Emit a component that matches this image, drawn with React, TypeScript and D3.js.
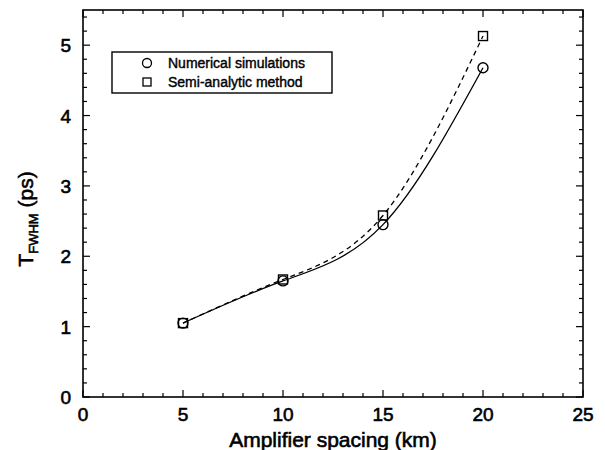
import { useEffect, useRef } from "react"
import * as d3 from "d3"

const spacing = [5, 10, 15, 20]
const numerical = [1.05, 1.65, 2.45, 4.68]
const semiAnalytic = [1.05, 1.67, 2.58, 5.13]
const xTicks = [0, 5, 10, 15, 20, 25]
const yTicks = [0, 1, 2, 3, 4, 5]
const legendLabels = ["Numerical simulations", "Semi-analytic method"]

const W = 605
const H = 450
const margin = { top: 10, right: 22, bottom: 53, left: 83 }
const FONT = "'Liberation Sans', Arial, Helvetica, sans-serif"

export default function App() {
    const ref = useRef<SVGSVGElement>(null)

    useEffect(() => {
        const svg = d3.select(ref.current)
        svg.selectAll("*").remove()

        const innerW = W - margin.left - margin.right
        const innerH = H - margin.top - margin.bottom

        const x = d3.scaleLinear().domain([0, 25]).range([0, innerW])
        const y = d3.scaleLinear().domain([0, 5.5]).range([innerH, 0])

        const g = svg.append("g").attr("transform", `translate(${margin.left},${margin.top})`)

        // frame
        g.append("rect")
            .attr("width", innerW)
            .attr("height", innerH)
            .attr("fill", "none")
            .attr("stroke", "#000")
            .attr("stroke-width", 1.6)

        // ticks on all sides, pointing in
        const xMinor = d3.range(0, 25.01, 1)
        const yMinor = d3.range(0, 5.51, 0.2)
        const tickG = g.append("g").attr("stroke", "#000").attr("stroke-width", 1.2)
        xMinor.forEach(v => {
            const len = v % 5 === 0 ? 7 : 4
            tickG.append("line").attr("x1", x(v)).attr("x2", x(v)).attr("y1", innerH).attr("y2", innerH - len)
            tickG.append("line").attr("x1", x(v)).attr("x2", x(v)).attr("y1", 0).attr("y2", len)
        })
        yMinor.forEach(v => {
            const major = Math.abs(v - Math.round(v)) < 1e-6
            const len = major ? 7 : 4
            tickG.append("line").attr("x1", 0).attr("x2", len).attr("y1", y(v)).attr("y2", y(v))
            tickG.append("line").attr("x1", innerW).attr("x2", innerW - len).attr("y1", y(v)).attr("y2", y(v))
        })

        // heavier text, like the scanned original
        const heavy = (sel: any, w = 0.6) =>
            sel.attr("font-family", FONT).attr("fill", "#000").attr("stroke", "#000").attr("stroke-width", w)

        // tick labels
        g.append("g")
            .selectAll("text")
            .data(xTicks)
            .join("text")
            .attr("x", d => x(d))
            .attr("y", innerH + 24)
            .attr("text-anchor", "middle")
            .attr("font-size", 19)
            .call(heavy)
            .text(d => d)

        g.append("g")
            .selectAll("text")
            .data(yTicks)
            .join("text")
            .attr("x", -12)
            .attr("y", d => y(d) + 7)
            .attr("text-anchor", "end")
            .attr("font-size", 19)
            .call(heavy)
            .text(d => d)

        // axis titles
        svg.append("text")
            .attr("x", margin.left + innerW / 2)
            .attr("y", 447)
            .attr("text-anchor", "middle")
            .attr("font-size", 21)
            .call(heavy)
            .text("Amplifier spacing (km)")

        const yl = svg.append("text")
            .attr("transform", `translate(33,219) rotate(-90)`)
            .attr("text-anchor", "middle")
            .attr("font-size", 21)
            .call(heavy)
        yl.append("tspan").text("T")
        yl.append("tspan").attr("font-size", 13).attr("dy", 5).text("FWHM")
        yl.append("tspan").attr("dy", -5).text(" (ps)")

        // curves
        const numPts = spacing.map((s, i) => [s, numerical[i]] as [number, number])
        const semiPts = spacing.map((s, i) => [s, semiAnalytic[i]] as [number, number])
        const line = d3.line<[number, number]>()
            .x(d => x(d[0]))
            .y(d => y(d[1]))
            .curve(d3.curveNatural)

        g.append("path")
            .datum(semiPts)
            .attr("fill", "none")
            .attr("stroke", "#000")
            .attr("stroke-width", 1.3)
            .attr("stroke-dasharray", "5,4")
            .attr("d", line)

        g.append("path")
            .datum(numPts)
            .attr("fill", "none")
            .attr("stroke", "#000")
            .attr("stroke-width", 1.3)
            .attr("d", line)

        // markers
        g.append("g")
            .selectAll("rect")
            .data(semiPts)
            .join("rect")
            .attr("x", d => x(d[0]) - 4.5)
            .attr("y", d => y(d[1]) - 4.5)
            .attr("width", 9)
            .attr("height", 9)
            .attr("fill", "none")
            .attr("stroke", "#000")
            .attr("stroke-width", 1.4)

        g.append("g")
            .selectAll("circle")
            .data(numPts)
            .join("circle")
            .attr("cx", d => x(d[0]))
            .attr("cy", d => y(d[1]))
            .attr("r", 5)
            .attr("fill", "none")
            .attr("stroke", "#000")
            .attr("stroke-width", 1.4)

        // legend
        const lg = svg.append("g").attr("transform", "translate(112,52)")
        lg.append("rect")
            .attr("width", 220)
            .attr("height", 41)
            .attr("fill", "#fff")
            .attr("stroke", "#000")
            .attr("stroke-width", 1.4)
        lg.append("circle").attr("cx", 35).attr("cy", 11).attr("r", 4.5)
            .attr("fill", "none").attr("stroke", "#000").attr("stroke-width", 1.3)
        lg.append("rect").attr("x", 31).attr("y", 26).attr("width", 8).attr("height", 8)
            .attr("fill", "none").attr("stroke", "#000").attr("stroke-width", 1.3)
        lg.selectAll("text.lab")
            .data(legendLabels)
            .join("text")
            .attr("class", "lab")
            .attr("x", 56)
            .attr("y", (_, i) => 16 + i * 19)
            .attr("font-size", 14)
            .call(heavy, 0.4)
            .text(d => d)
    }, [])

    return (
        <svg
            ref={ref}
            width={W}
            height={H}
            style={{ position: "absolute", left: 0, top: 0, background: "#fff" }}
        />
    )
}
